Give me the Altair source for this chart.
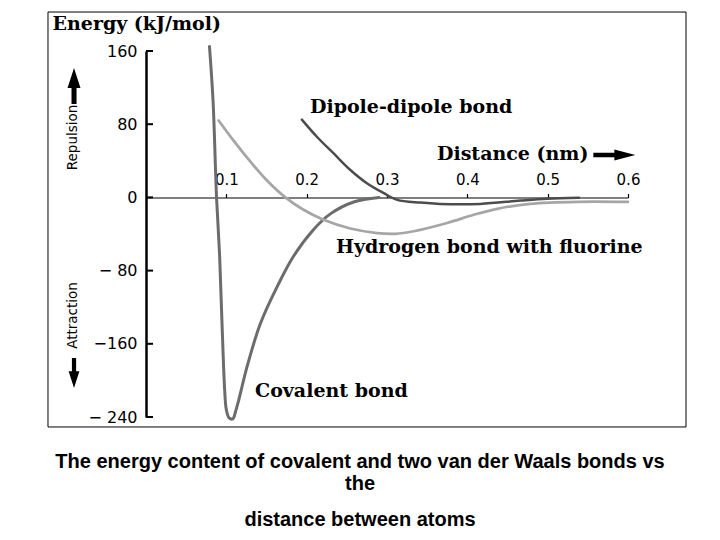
import altair as alt
import pandas as pd

# ---------------- data (distance in nm, energy in kJ/mol) ----------------
covalent_d = [0.0790, 0.0835, 0.0878, 0.0917, 0.0946, 0.0979, 0.1000, 0.1035, 0.1080,
              0.1115, 0.1153, 0.1258, 0.1423, 0.1630, 0.1838, 0.2087, 0.2295, 0.2585, 0.2900]
covalent_e = [165, 105, 0, -65, -137, -210, -232, -241, -242,
              -234, -222, -185, -138, -98, -64, -35, -18, -5, 0]

hydrogen_d = [0.0904, 0.109, 0.130, 0.150, 0.1735, 0.195, 0.221, 0.2544, 0.2877, 0.310,
              0.3333, 0.3748, 0.408, 0.437, 0.4786, 0.5387, 0.5998]
hydrogen_e = [84, 62, 39, 19, 0, -13, -24.5, -34, -39, -39.8,
              -37, -28, -19, -12.5, -7, -4.8, -5]

dipole_d = [0.194, 0.213, 0.2336, 0.2544, 0.275, 0.296, 0.3126, 0.3416, 0.366, 0.416,
            0.466, 0.499, 0.539]
dipole_e = [85, 66, 48, 30, 15.5, 4.6, -2.7, -5.7, -7.1, -7.1,
            -3.5, -1.5, -0.5]

series_names = ["Covalent bond", "Hydrogen bond with fluorine", "Dipole-dipole bond"]
series_colors = ["#6c6c6c", "#a6a6a6", "#4c4c4c"]
series_widths = [3, 2.5, 3]

x_ticks = [0.1, 0.2, 0.3, 0.4, 0.5, 0.6]
y_ticks = [160, 80, 0, -80, -160, -240]
y_tick_labels = ["160", "80", "0", "\u2212 80", "\u2212160", "\u2212 240"]

# annotation labels (placed in data coordinates)
label_text = ["Dipole-dipole bond", "Distance (nm)", "Hydrogen bond with fluorine", "Covalent bond"]
label_d = [0.2041, 0.3622, 0.2365, 0.1357]
label_e = [91.9, 40.9, -60.8, -217.8]

side_text = ["Repulsion", "Attraction"]
side_d = [-0.0909, -0.0909]
side_e = [65.5, -129.1]

caption_text = ["The energy content of covalent and two van der Waals bonds vs", "the",
                "distance between atoms"]
caption_d = [0.2664, 0.2664, 0.2664]
caption_e = [-295.7, -319.8, -359.1]

# frame around the figure (data coordinates)
frame_d = [-0.122, 0.6722]
frame_e = [-250.9, 202.6]

# ---------------- build tables ----------------
rows = []
for name, ds, es in zip(series_names, [covalent_d, hydrogen_d, dipole_d],
                        [covalent_e, hydrogen_e, dipole_e]):
    for d, e in zip(ds, es):
        rows.append({"series": name, "d": d, "e": e})
curves = pd.DataFrame(rows)

x_scale = alt.Scale(domain=[0, 0.6], nice=False, zero=False)
y_scale = alt.Scale(domain=[-240, 160], nice=False, zero=False)

label_expr = " : ".join(
    f"datum.value == {v} ? '{t}'" for v, t in zip(y_ticks, y_tick_labels)
) + " : datum.label"

x_axis = alt.Axis(
    orient="top", offset=-146.5, values=x_ticks, format=".1f",
    tickSize=4, tickColor="black", tickWidth=1.2,
    domainColor="black", domainWidth=1.2,
    labelPadding=6, labelFont="DejaVu Sans", labelFontSize=15, labelColor="black",
    labelFlush=False, grid=False, title=None)
y_axis = alt.Axis(
    values=y_ticks, labelExpr=label_expr, ticks=False, tickSize=0,
    labelPadding=9, labelFont="DejaVu Sans", labelFontSize=16, labelColor="black",
    labelFlush=False, domainColor="black", domainWidth=2.5, grid=False,
    title="Energy (kJ/mol)", titleAngle=0, titleAlign="left", titleBaseline="alphabetic",
    titleX=-94, titleY=-22, titleFont="DejaVu Serif", titleFontSize=19,
    titleFontWeight="bold", titleColor="black")

X = alt.X("d:Q", scale=x_scale, axis=x_axis)
Y = alt.Y("e:Q", scale=y_scale, axis=y_axis)

lines = alt.Chart(curves).mark_line(interpolate="catmull-rom", strokeCap="round").encode(
    x=X, y=Y,
    color=alt.Color("series:N", scale=alt.Scale(domain=series_names, range=series_colors), legend=None),
    strokeWidth=alt.StrokeWidth("series:N", scale=alt.Scale(domain=series_names, range=series_widths), legend=None),
)

yticks = alt.Chart(pd.DataFrame({"e": y_ticks})).mark_rule(color="black", strokeWidth=2).encode(
    x=alt.value(0), x2=alt.value(7), y=Y,
)

labels = alt.Chart(pd.DataFrame({"t": label_text, "d": label_d, "e": label_e})).mark_text(
    align="left", baseline="alphabetic", font="DejaVu Serif", fontWeight="bold",
    fontSize=19, color="black").encode(x=X, y=Y, text="t:N")

side = alt.Chart(pd.DataFrame({"t": side_text, "d": side_d, "e": side_e})).mark_text(
    align="center", baseline="middle", angle=270, font="DejaVu Sans", fontSize=13.5,
    color="black").encode(x=X, y=Y, text="t:N")

caption = alt.Chart(pd.DataFrame({"t": caption_text, "d": caption_d, "e": caption_e})).mark_text(
    align="center", baseline="alphabetic", font="Liberation Sans", fontSize=20,
    fontWeight="bold", color="black").encode(x=X, y=Y, text="t:N")

up_shape = "M0,-1L0.36,0.11L0.14,0.11L0.14,1L-0.14,1L-0.14,0.11L-0.36,0.11Z"
right_shape = "M0,-1L0.26,0L0.11,0L0.11,1L-0.11,1L-0.11,0L-0.26,0Z"

def arrow(d, e, shape, size, angle):
    return alt.Chart(pd.DataFrame({"d": [d], "e": [e]})).mark_point(
        shape=shape, size=size, angle=angle, filled=True, opacity=1, color="black",
        strokeWidth=0).encode(x=X, y=Y)

arrows = [
    arrow(-0.0896, 121.7, up_shape, 1296, 0),
    arrow(-0.0896, -191.9, up_shape, 900, 180),
    arrow(0.5830, 46.3, right_shape, 1764, 90),
]

frame = alt.Chart(pd.DataFrame({"d": [frame_d[0]], "d2": [frame_d[1]],
                                "e": [frame_e[0]], "e2": [frame_e[1]]})).mark_rect(
    fill=None, stroke="black", strokeWidth=1).encode(
    x=X, x2="d2:Q", y=Y, y2="e2:Q")

chart = alt.layer(lines, frame, yticks, labels, side, caption, *arrows).properties(
    width=482, height=366,
    padding={"left": 138, "top": 43, "right": 84, "bottom": 115},
    autosize=alt.AutoSizeParams(type="none"),
    background="white",
).configure_view(stroke=None)

chart.save("out.html", embed_options={"renderer": "svg", "actions": False})
